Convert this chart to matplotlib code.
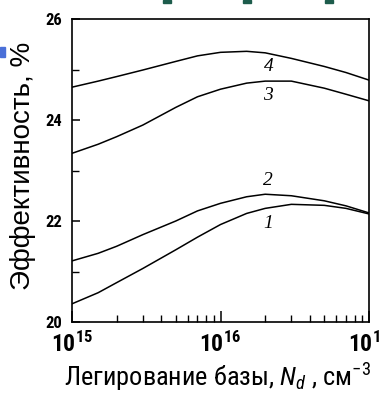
import matplotlib
matplotlib.use("Agg")
import matplotlib.pyplot as plt
from matplotlib.patches import Rectangle
from matplotlib.ticker import FixedLocator, FixedFormatter, NullFormatter

plt.rcParams["font.family"] = ["Roboto Condensed", "Liberation Sans", "DejaVu Sans"]
plt.rcParams["mathtext.fontset"] = "custom"
plt.rcParams["mathtext.rm"] = "Roboto Condensed"
plt.rcParams["mathtext.it"] = "Roboto Condensed:italic"
plt.rcParams["mathtext.bf"] = "Roboto Condensed:bold"

# doping level of the base, cm^-3
nd = [1.0e15, 1.5e15, 2.0e15, 3.0e15, 5.0e15, 7.0e15, 1.0e16,
      1.5e16, 2.0e16, 3.0e16, 5.0e16, 7.0e16, 1.0e17]

# efficiency, %
eff_1 = [20.36, 20.58, 20.78, 21.06, 21.43, 21.68, 21.93,
         22.15, 22.25, 22.33, 22.31, 22.25, 22.14]
eff_2 = [21.21, 21.36, 21.50, 21.73, 22.00, 22.20, 22.35,
         22.48, 22.53, 22.50, 22.40, 22.30, 22.16]
eff_3 = [23.34, 23.52, 23.67, 23.90, 24.25, 24.46, 24.61,
         24.73, 24.77, 24.77, 24.63, 24.51, 24.38]
eff_4 = [24.65, 24.77, 24.86, 24.99, 25.16, 25.27, 25.34,
         25.36, 25.33, 25.22, 25.06, 24.94, 24.79]

curves = [eff_1, eff_2, eff_3, eff_4]
curve_labels = ["1", "2", "3", "4"]
label_x = [2.1e16, 2.1e16, 2.1e16, 2.1e16]
label_y = [21.96, 22.81, 24.48, 25.05]

x_ticks = [1e15, 1e16, 1e17]
x_ticklabels = [r"$\mathbf{10^{15}}$", r"$\mathbf{10^{16}}$", r"$\mathbf{10^{17}}$"]
x_minor = [k * 10**p for p in (15, 16) for k in range(2, 10)]
y_ticks = [20, 22, 24, 26]
y_minor = [21, 23, 25]

fig = plt.figure(figsize=(3.8, 4.01), dpi=100)
ax = fig.add_axes([72 / 380, 1 - 322 / 401, 297 / 380, 303 / 401])

for vals in curves:
    ax.plot(nd, vals, color="black", linewidth=1.1)

for t, xx, yy in zip(curve_labels, label_x, label_y):
    ax.text(xx, yy, t, fontsize=14, style="italic", family="Liberation Serif",
            ha="center", va="center")

ax.set_xscale("log")
ax.set_xlim(1e15, 1e17)
ax.set_ylim(20, 26)

ax.xaxis.set_major_locator(FixedLocator(x_ticks))
ax.xaxis.set_major_formatter(FixedFormatter(x_ticklabels))
ax.xaxis.set_minor_locator(FixedLocator(x_minor))
ax.xaxis.set_minor_formatter(NullFormatter())
ax.yaxis.set_major_locator(FixedLocator(y_ticks))
ax.yaxis.set_minor_locator(FixedLocator(y_minor))

ax.tick_params(axis="x", which="major", direction="in", length=8, width=1.1,
               labelsize=17, pad=7)
ax.tick_params(axis="x", which="minor", direction="in", length=5, width=1.0)
ax.tick_params(axis="y", which="major", direction="in", length=6, width=1.1,
               labelsize=12, pad=7)
ax.tick_params(axis="y", which="minor", direction="in", length=5, width=1.0)
for lab in ax.get_yticklabels():
    lab.set_fontweight("bold")

for s in ax.spines.values():
    s.set_linewidth(1.2)

ax.set_xlabel(r"Легирование базы, $N_d$ , см$^{-3}$", fontsize=19)
ax.xaxis.set_label_coords(0.49, -0.13)
ax.set_ylabel("Эффективность, %", fontsize=20, family="Liberation Sans")
ax.yaxis.set_label_coords(-0.12, 0.515)

for lab in ax.get_xticklabels():
    lab.set_clip_on(False)

# bits of the slide around the cropped figure
fig.patches.append(Rectangle((0, 1 - 57 / 401), 5 / 380, 10 / 401,
                             transform=fig.transFigure, color="#4a6fd8"))
for gx in (163, 243, 325):
    fig.patches.append(Rectangle((gx / 380, 1 - 3 / 401), 8 / 380, 3 / 401,
                                 transform=fig.transFigure, color="#1d5c4c"))

fig.savefig("out.png", dpi=100)
